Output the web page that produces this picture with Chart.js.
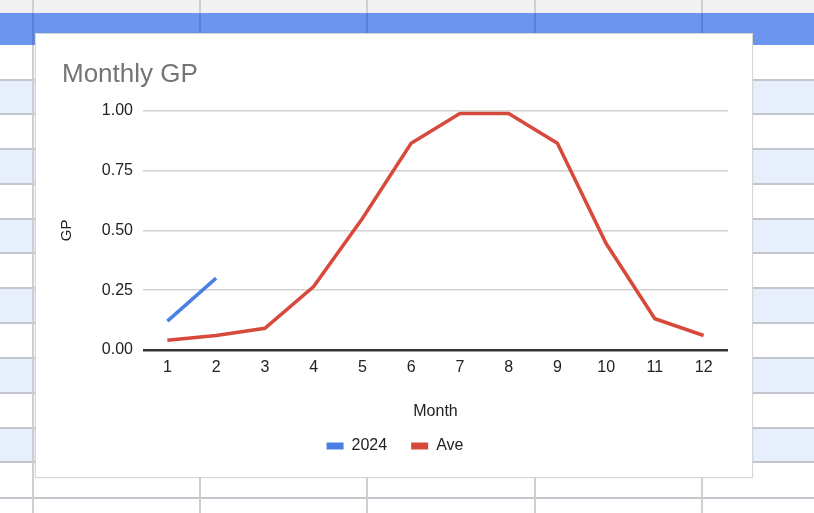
<!DOCTYPE html>
<html>
<head>
<meta charset="utf-8">
<script src="https://cdn.jsdelivr.net/npm/chart.js@4.4.1/dist/chart.umd.min.js"></script>
<style>
  html, body { margin: 0; padding: 0; width: 814px; height: 513px; overflow: hidden; background: #ffffff; position: relative; font-family: "Liberation Sans", Arial, sans-serif; }
  #bg { position: absolute; left: 0; top: 0; width: 814px; height: 513px; }
  .strip { position: absolute; left: 0; width: 814px; }
  .vline { position: absolute; width: 2px; }
  #card { position: absolute; left: 35px; top: 33px; width: 718px; height: 445px; box-sizing: border-box; border: 1px solid #d6d6d6; background: #ffffff; box-shadow: 0 0 2px rgba(0,0,0,0.08); }
  #chart { position: absolute; left: 0; top: 0; }
</style>
</head>
<body>
<div id="bg"></div>
<div id="card"><canvas id="chart" width="716" height="443"></canvas></div>
<script>
// ---- data ----
const months = ['1', '2', '3', '4', '5', '6', '7', '8', '9', '10', '11', '12'];
const gp2024 = [0.12, 0.30, null, null, null, null, null, null, null, null, null, null];
const gpAve = [0.04, 0.06, 0.09, 0.265, 0.55, 0.865, 0.99, 0.99, 0.865, 0.445, 0.13, 0.06];
const yTicks = [0, 0.25, 0.5, 0.75, 1];
const seriesNames = ['2024', 'Ave'];
const chartTitle = 'Monthly GP';
const xTitle = 'Month';
const yTitle = 'GP';

// ---- spreadsheet background ----
(function () {
  const bg = document.getElementById('bg');
  function add(cls, css) { const d = document.createElement('div'); d.className = cls; d.style.cssText = css; bg.appendChild(d); return d; }
  add('strip', 'top:0;height:13px;background:#f1f1f1;');
  add('strip', 'top:13px;height:32px;background:#6b95ee;');
  const rowEdges = [45, 80, 114, 149, 184, 219, 253, 288, 323, 358, 393, 428, 462, 498];
  for (let i = 0; i < rowEdges.length - 1; i++) {
    const t = rowEdges[i], h = rowEdges[i + 1] - t;
    add('strip', 'top:' + t + 'px;height:' + h + 'px;background:' + (i % 2 === 1 ? '#e8effc' : '#ffffff') + ';');
  }
  for (let i = 1; i < rowEdges.length; i++) {
    add('strip', 'top:' + (rowEdges[i] - 1) + 'px;height:2px;background:#c3c6cc;');
  }
  [33, 200, 367, 535, 702].forEach(function (x) {
    add('vline', 'left:' + (x - 1) + 'px;top:0;height:13px;background:#cfcfcf;');
    add('vline', 'left:' + (x - 1) + 'px;top:13px;height:32px;background:#5b80d0;');
    add('vline', 'left:' + (x - 1) + 'px;top:45px;height:468px;background:#cfcfcf;');
  });
})();

// ---- chart ----
const FONT = '"Liberation Sans", Arial, Helvetica, sans-serif';
const ctx = document.getElementById('chart').getContext('2d');
new Chart(ctx, {
  type: 'line',
  data: {
    labels: months,
    datasets: [
      { label: seriesNames[0], data: gp2024, borderColor: '#4a80e6', backgroundColor: '#4a80e6', borderWidth: 3.5, pointRadius: 0, pointHoverRadius: 0, tension: 0, spanGaps: false },
      { label: seriesNames[1], data: gpAve, borderColor: '#d7493b', backgroundColor: '#d7493b', borderWidth: 3.5, pointRadius: 0, pointHoverRadius: 0, tension: 0 }
    ]
  },
  options: {
    responsive: false,
    animation: false,
    devicePixelRatio: 1,
    events: [],
    layout: { padding: { left: 26, right: 24, top: 10, bottom: 13 } },
    plugins: {
      title: {
        display: true, text: chartTitle, align: 'start', color: '#757575',
        font: { family: FONT, size: 26, weight: 'normal' },
        padding: { top: 15.6, bottom: 20.2 }
      },
      legend: {
        display: true, position: 'bottom', align: 'center',
        labels: {
          color: '#222222', boxWidth: 17, boxHeight: 7, padding: 24,
          font: { family: FONT, size: 16 },
          generateLabels: function (chart) {
            return Chart.defaults.plugins.legend.labels.generateLabels(chart).map(function (l) { l.lineWidth = 0; return l; });
          }
        }
      },
      tooltip: { enabled: false }
    },
    scales: {
      x: {
        offset: true,
        grid: { display: false, drawTicks: false },
        border: { display: false },
        ticks: { color: '#222222', padding: 8, font: { family: FONT, size: 16 }, maxRotation: 0, autoSkip: false },
        title: { display: true, text: xTitle, color: '#222222', font: { family: FONT, size: 16 }, padding: { top: 17.4, bottom: -7.6 } }
      },
      y: {
        min: 0, max: 1,
        afterFit: function (scale) { scale.width = 81; },
        afterBuildTicks: function (scale) { scale.ticks = yTicks.map(function (v) { return { value: v }; }); },
        grid: {
          drawTicks: false,
          color: function (c) { return c.tick && c.tick.value === 0 ? '#333333' : '#d2d2d2'; },
          lineWidth: function (c) { return c.tick && c.tick.value === 0 ? 2.5 : 1.5; }
        },
        border: { display: false },
        ticks: { color: '#222222', padding: 10, font: { family: FONT, size: 16 }, callback: function (v) { return Number(v).toFixed(2); } },
        title: { display: true, text: yTitle, color: '#222222', font: { family: FONT, size: 15, lineHeight: 1 }, padding: { top: -3, bottom: 0 } }
      }
    }
  }
});
</script>
</body>
</html>
